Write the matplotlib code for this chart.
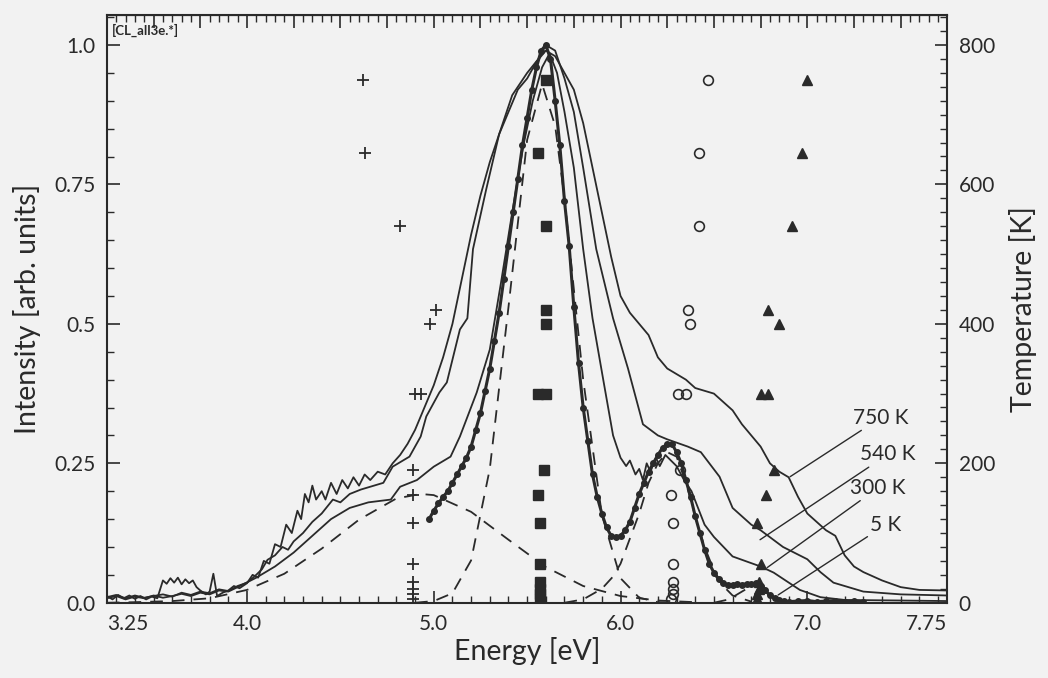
import numpy as np
import matplotlib.pyplot as plt
from matplotlib.ticker import MultipleLocator, FixedLocator

plt.rcParams['font.family'] = ['Lato', 'DejaVu Sans']

# ---- spectra (energy eV, normalised intensity) ----
e_750 = [3.25, 3.28, 3.31, 3.34, 3.37, 3.40, 3.43, 3.46, 3.49, 3.52, 3.55, 3.57, 3.59, 3.61, 3.63,
         3.65, 3.67, 3.69, 3.71, 3.73, 3.75, 3.78, 3.80, 3.82, 3.84, 3.87, 3.90, 3.93, 3.96, 4.00,
         4.03, 4.06, 4.09, 4.12, 4.15, 4.18, 4.21, 4.24, 4.27, 4.29, 4.31, 4.33, 4.35, 4.37, 4.40,
         4.42, 4.45, 4.48, 4.51, 4.54, 4.57, 4.60, 4.63, 4.66, 4.70, 4.74, 4.78, 4.82, 4.86, 4.90,
         4.95, 5.00, 5.05, 5.10, 5.15, 5.20, 5.25, 5.30, 5.35, 5.40, 5.45, 5.50, 5.55, 5.60, 5.65,
         5.70, 5.75, 5.80, 5.85, 5.90, 5.95, 6.00, 6.05, 6.10, 6.15, 6.20, 6.25, 6.30, 6.35, 6.40,
         6.45, 6.50, 6.55, 6.60, 6.65, 6.70, 6.75, 6.80, 6.85, 6.90, 6.95, 7.00, 7.05, 7.10, 7.15,
         7.20, 7.25, 7.30, 7.40, 7.50, 7.60, 7.75]
i_750 = [0.012, 0.006, 0.014, 0.008, 0.013, 0.007, 0.012, 0.006, 0.011, 0.008, 0.040, 0.034, 0.044, 0.036, 0.045,
         0.033, 0.042, 0.035, 0.040, 0.028, 0.022, 0.015, 0.020, 0.052, 0.012, 0.018, 0.022, 0.030, 0.026, 0.035,
         0.050, 0.045, 0.075, 0.070, 0.105, 0.100, 0.140, 0.125, 0.165, 0.150, 0.195, 0.180, 0.210, 0.185, 0.200,
         0.185, 0.215, 0.195, 0.220, 0.205, 0.225, 0.210, 0.230, 0.220, 0.235, 0.230, 0.250, 0.265, 0.285, 0.310,
         0.350, 0.390, 0.440, 0.500, 0.580, 0.660, 0.730, 0.790, 0.840, 0.880, 0.920, 0.940, 0.970, 0.990, 0.980,
         0.950, 0.920, 0.860, 0.780, 0.700, 0.620, 0.550, 0.520, 0.500, 0.480, 0.440, 0.420, 0.410, 0.400, 0.385,
         0.380, 0.375, 0.360, 0.345, 0.320, 0.300, 0.280, 0.250, 0.235, 0.225, 0.190, 0.160, 0.145, 0.130, 0.120,
         0.085, 0.065, 0.055, 0.040, 0.028, 0.023, 0.022]

e_540 = [3.25, 3.30, 3.35, 3.40, 3.45, 3.50, 3.55, 3.60, 3.65, 3.70, 3.75, 3.80, 3.85, 3.90, 3.95,
         4.00, 4.04, 4.08, 4.11, 4.15, 4.19, 4.22, 4.25, 4.30, 4.35, 4.40, 4.46, 4.50, 4.55, 4.61,
         4.68, 4.73, 4.78, 4.87, 4.93, 4.96, 5.03, 5.07, 5.14, 5.18, 5.21, 5.28, 5.35, 5.42, 5.50,
         5.56, 5.60, 5.65, 5.70, 5.75, 5.80, 5.87, 5.96, 6.04, 6.12, 6.20, 6.25, 6.36, 6.43, 6.53,
         6.60, 6.70, 6.75, 6.87, 7.00, 7.07, 7.14, 7.30, 7.50, 7.75]
i_540 = [0.010, 0.014, 0.008, 0.013, 0.009, 0.012, 0.015, 0.011, 0.018, 0.014, 0.020, 0.017, 0.024, 0.021, 0.030,
         0.036, 0.047, 0.060, 0.077, 0.085, 0.100, 0.095, 0.110, 0.125, 0.145, 0.160, 0.185, 0.180, 0.195, 0.203,
         0.210, 0.215, 0.244, 0.262, 0.298, 0.334, 0.377, 0.395, 0.490, 0.510, 0.634, 0.740, 0.840, 0.910, 0.950,
         0.975, 1.000, 0.990, 0.940, 0.880, 0.780, 0.634, 0.510, 0.420, 0.320, 0.300, 0.293, 0.280, 0.270, 0.226,
         0.170, 0.140, 0.130, 0.100, 0.078, 0.055, 0.036, 0.020, 0.015, 0.013]

e_300 = [3.25, 3.30, 3.35, 3.40, 3.45, 3.50, 3.55, 3.60, 3.65, 3.70, 3.75, 3.80, 3.85, 3.90, 3.95,
         4.05, 4.15, 4.25, 4.35, 4.45, 4.55, 4.65, 4.77, 4.82, 4.91, 5.00, 5.09, 5.14, 5.23, 5.30,
         5.36, 5.42, 5.48, 5.53, 5.58, 5.62, 5.66, 5.70, 5.75, 5.80, 5.85, 5.91, 5.96, 6.00, 6.03,
         6.05, 6.08, 6.10, 6.12, 6.14, 6.16, 6.19, 6.21, 6.24, 6.27, 6.30, 6.34, 6.38, 6.45, 6.50,
         6.60, 6.75, 6.82, 6.96, 7.07, 7.20, 7.50, 7.75]
i_300 = [0.008, 0.012, 0.006, 0.011, 0.008, 0.013, 0.009, 0.012, 0.016, 0.012, 0.018, 0.015, 0.022, 0.020, 0.028,
         0.045, 0.065, 0.090, 0.120, 0.150, 0.170, 0.180, 0.185, 0.208, 0.220, 0.244, 0.262, 0.298, 0.377, 0.454,
         0.574, 0.700, 0.820, 0.900, 0.960, 0.985, 0.950, 0.880, 0.780, 0.634, 0.510, 0.395, 0.300, 0.260, 0.245,
         0.255, 0.230, 0.240, 0.220, 0.250, 0.235, 0.260, 0.245, 0.265, 0.255, 0.245, 0.220, 0.200, 0.140, 0.118,
         0.083, 0.065, 0.054, 0.023, 0.010, 0.005, 0.004, 0.003]

e_5 = [4.975, 5.000, 5.025, 5.050, 5.075, 5.100, 5.125, 5.150, 5.175, 5.200, 5.225, 5.250, 5.275, 5.300,
       5.325, 5.350, 5.375, 5.400, 5.425, 5.450, 5.475, 5.500, 5.525, 5.550, 5.575, 5.600, 5.625, 5.650,
       5.675, 5.700, 5.725, 5.750, 5.775, 5.800, 5.825, 5.850, 5.875, 5.900, 5.925, 5.950, 5.975, 6.000,
       6.025, 6.050, 6.075, 6.100, 6.125, 6.150, 6.175, 6.200, 6.225, 6.250, 6.275, 6.300, 6.325, 6.350,
       6.375, 6.400, 6.425, 6.450, 6.475, 6.500, 6.525, 6.550, 6.575, 6.600, 6.625, 6.650, 6.675, 6.700,
       6.725, 6.750, 6.775, 6.800, 6.825, 6.850, 6.875, 6.900, 6.950, 7.000, 7.050, 7.100, 7.150, 7.200,
       7.250, 7.300]
i_5 = [0.150, 0.165, 0.178, 0.190, 0.200, 0.215, 0.230, 0.245, 0.260, 0.280, 0.310, 0.340, 0.380, 0.420,
       0.470, 0.520, 0.580, 0.640, 0.700, 0.760, 0.820, 0.870, 0.920, 0.960, 0.990, 1.000, 0.975, 0.900,
       0.820, 0.720, 0.640, 0.530, 0.430, 0.350, 0.290, 0.230, 0.190, 0.160, 0.135, 0.120, 0.118, 0.120,
       0.130, 0.145, 0.170, 0.195, 0.215, 0.235, 0.250, 0.265, 0.278, 0.285, 0.285, 0.270, 0.250, 0.220,
       0.190, 0.155, 0.125, 0.095, 0.070, 0.054, 0.042, 0.035, 0.032, 0.031, 0.033, 0.032, 0.034, 0.033,
       0.035, 0.030, 0.022, 0.013, 0.008, 0.005, 0.003, 0.002, 0.003, 0.004, 0.002, 0.003, 0.004, 0.002,
       0.003, 0.002]

# ---- fitted gaussian components (dashed) ----
e_g1 = [3.25, 3.40, 3.60, 3.80, 4.00, 4.20, 4.40, 4.60, 4.80, 4.93, 5.00, 5.20, 5.40, 5.60, 5.80, 6.00, 6.20, 6.40]
i_g1 = [0.000, 0.001, 0.003, 0.008, 0.023, 0.052, 0.097, 0.149, 0.187, 0.195, 0.193, 0.163, 0.113, 0.064, 0.030, 0.012, 0.004, 0.001]
e_g2 = [4.90, 5.00, 5.10, 5.20, 5.30, 5.40, 5.50, 5.58, 5.65, 5.70, 5.80, 5.90, 6.00, 6.10, 6.20, 6.30]
i_g2 = [0.000, 0.003, 0.017, 0.076, 0.240, 0.530, 0.830, 0.930, 0.855, 0.725, 0.400, 0.158, 0.044, 0.009, 0.001, 0.000]
e_g3 = [5.70, 5.80, 5.90, 5.96, 6.00, 6.05, 6.10, 6.15, 6.20, 6.25, 6.30, 6.35, 6.40, 6.45, 6.50, 6.55, 6.60, 6.70]
i_g3 = [0.000, 0.006, 0.025, 0.047, 0.070, 0.115, 0.160, 0.215, 0.250, 0.270, 0.262, 0.215, 0.155, 0.100, 0.058, 0.030, 0.013, 0.002]
e_g4 = [6.50, 6.58, 6.64, 6.68, 6.72, 6.76, 6.82, 6.90]
i_g4 = [0.000, 0.006, 0.018, 0.026, 0.030, 0.025, 0.010, 0.000]

# ---- peak positions vs temperature (right axis) ----
temp = [750, 645, 540, 420, 400, 300, 300, 190, 155, 115, 55, 30, 20, 12, 5]
e_plus = [4.62, 4.63, 4.82, 5.01, 4.98, 4.90, 4.93, 4.89, 4.89, 4.89, 4.89, 4.89, 4.89, 4.89, 4.89]
e_sq = [5.60, 5.56, 5.60, 5.60, 5.60, 5.56, 5.60, 5.59, 5.56, 5.57, 5.57, 5.57, 5.57, 5.57, 5.57]
e_circ = [6.47, 6.42, 6.42, 6.36, 6.37, 6.31, 6.35, 6.32, 6.27, 6.28, 6.28, 6.28, 6.28, 6.28, 6.27]
e_tri = [7.00, 6.97, 6.92, 6.79, 6.85, 6.75, 6.79, 6.82, 6.78, 6.73, 6.75, 6.74, 6.74, 6.73, 6.73]

bg = '#f2f2f2'
ink = '#2a2a2a'
fig = plt.figure(figsize=(10.48, 6.78), dpi=100, facecolor=bg)
ax = fig.add_axes([0.102, 0.111, 0.802, 0.867], facecolor=bg)

for e, i in [(e_750, i_750), (e_540, i_540), (e_300, i_300)]:
    ax.plot(e, i, color=ink, lw=1.3)
ax.plot(e_5, i_5, color=ink, lw=2.2, marker='o', ms=4)
for e, i in [(e_g1, i_g1), (e_g2, i_g2), (e_g3, i_g3), (e_g4, i_g4)]:
    ax.plot(e, i, color=ink, lw=1.3, dashes=(7, 5))

ax.set_xlim(3.25, 7.75)
ax.set_ylim(0, 1.054)
ax.xaxis.set_major_locator(FixedLocator([3.25, 4.0, 5.0, 6.0, 7.0, 7.75]))
ax.set_xticklabels(['3.25', '4.0', '5.0', '6.0', '7.0', '7.75'])
labs = ax.get_xticklabels()
labs[0].set_ha('left')
labs[-1].set_ha('right')
ax.xaxis.set_minor_locator(MultipleLocator(0.1))
ax.yaxis.set_major_locator(FixedLocator([0, 0.25, 0.5, 0.75, 1.0]))
ax.set_yticklabels(['0.0', '0.25', '0.5', '0.75', '1.0'])
ax.yaxis.set_minor_locator(MultipleLocator(0.05))
ax.tick_params(which='both', direction='in', colors=ink, labelsize=15, pad=8)
ax.tick_params(which='major', length=9, width=1.2)
ax.tick_params(which='minor', length=5, width=1)
ax.tick_params(axis='x', which='both', top=False)
for s in ax.spines.values():
    s.set_color(ink)
    s.set_linewidth(1.5)
ax.set_xlabel('Energy [eV]', fontsize=20.5, color=ink, labelpad=2)
ax.set_ylabel('Intensity [arb. units]', fontsize=20.5, color=ink, labelpad=10)

top = ax.secondary_xaxis('top')
top.xaxis.set_major_locator(MultipleLocator(0.25))
top.xaxis.set_minor_locator(MultipleLocator(0.05))
top.tick_params(which='both', direction='in', labeltop=False, colors=ink)
top.tick_params(which='major', length=9, width=1.2)
top.tick_params(which='minor', length=5, width=1)

ax2 = ax.twinx()
ax2.set_ylim(0, 843)
ax2.yaxis.set_major_locator(MultipleLocator(200))
ax2.yaxis.set_minor_locator(MultipleLocator(20))
ax2.tick_params(which='both', direction='in', colors=ink, labelsize=15, pad=8)
ax2.tick_params(which='major', length=9, width=1.2)
ax2.tick_params(which='minor', length=5, width=1)
ax2.set_ylabel('Temperature [K]', fontsize=20.5, color=ink, labelpad=10)
for s in ax2.spines.values():
    s.set_visible(False)

ax2.plot(e_plus, temp, ls='none', marker='+', ms=9, mew=1.3, color=ink)
ax2.plot(e_sq, temp, ls='none', marker='s', ms=6.5, color=ink)
ax2.plot(e_circ, temp, ls='none', marker='o', ms=7, mfc='none', mew=1.2, color=ink)
ax2.plot(e_tri, temp, ls='none', marker='^', ms=7, color=ink)

# curve labels with leader lines
labels = ['750 K', '540 K', '300 K', '5 K']
lab_xy = [(7.246, 0.332), (7.283, 0.266), (7.23, 0.206), (7.337, 0.14)]
tgt_xy = [(6.908, 0.226), (6.747, 0.113), (6.785, 0.063), (6.844, 0.014)]
for t, p, q in zip(labels, lab_xy, tgt_xy):
    ax.annotate(t, xy=q, xytext=p, fontsize=15, color=ink, ha='left', va='center',
                arrowprops=dict(arrowstyle='-', color=ink, lw=1, shrinkA=0, shrinkB=0))

ax.text(0.006, 0.985, '[CL_all3e.*]', transform=ax.transAxes, fontsize=9.5, fontweight='bold',
        color=ink, ha='left', va='top')

fig.savefig('out.png', dpi=100, facecolor=bg)
